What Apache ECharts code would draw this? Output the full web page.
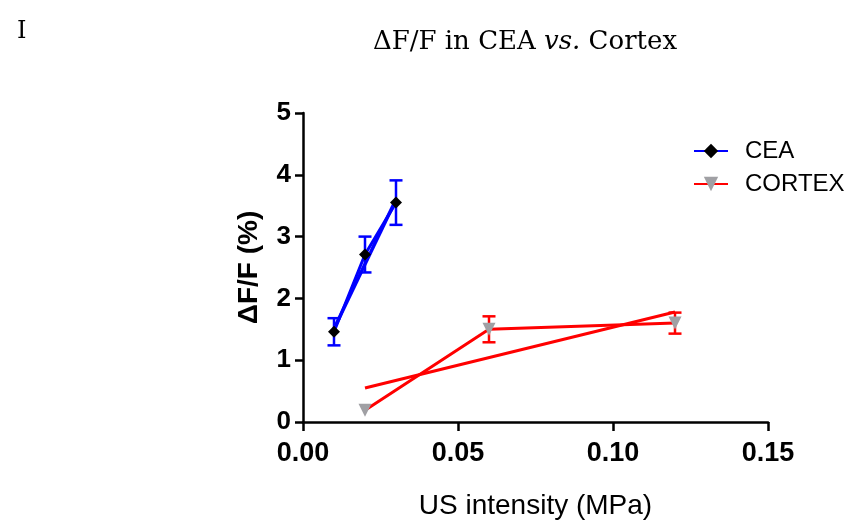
<!DOCTYPE html>
<html>
<head>
<meta charset="utf-8">
<script src="https://cdn.jsdelivr.net/npm/echarts@6/dist/echarts.min.js"></script>
<style>
  html, body { margin: 0; padding: 0; background: #fff; }
  #chart { width: 858px; height: 529px; }
</style>
</head>
<body>
<div id="chart"></div>
<script>
// Ultrasound intensity (MPa) and fluorescence change (%), mean ± SEM
const ceaX = [0.01, 0.02, 0.03];
const ceaMean = [1.46, 2.71, 3.55];
const ceaSem = [0.22, 0.29, 0.36];
const ceaFit = [1.51, 3.60];          // regression line at first/last intensity

const cortexX = [0.02, 0.06, 0.12];
const cortexMean = [0.19, 1.50, 1.60];
const cortexSem = [0, 0.21, 0.17];
const cortexFit = [0.55, 1.78];

const xTicks = [0, 0.05, 0.10, 0.15];
const yTicks = [0, 1, 2, 3, 4, 5];

const BLUE = '#0000ff';
const RED = '#ff0000';
const GREY = '#a0a0a4';

function pairs(xs, ys) { return xs.map((x, i) => [x, ys[i]]); }

function errorSeries(xs, means, sems, color) {
  return {
    type: 'custom',
    silent: true,
    z: 1,
    data: xs.map((x, i) => [x, means[i] - sems[i], means[i] + sems[i]]),
    renderItem: function (params, api) {
      if (api.value(1) === api.value(2)) return null;
      const lo = api.coord([api.value(0), api.value(1)]);
      const hi = api.coord([api.value(0), api.value(2)]);
      const w = 6.5;
      const style = { stroke: color, lineWidth: 2.5 };
      return {
        type: 'group',
        children: [
          { type: 'line', shape: { x1: lo[0], y1: lo[1], x2: hi[0], y2: hi[1] }, style },
          { type: 'line', shape: { x1: lo[0] - w, y1: lo[1], x2: lo[0] + w, y2: lo[1] }, style },
          { type: 'line', shape: { x1: hi[0] - w, y1: hi[1], x2: hi[0] + w, y2: hi[1] }, style }
        ]
      };
    }
  };
}

const chart = echarts.init(document.getElementById('chart'), null, { renderer: 'canvas' });

chart.setOption({
  backgroundColor: '#ffffff',
  animation: false,
  title: [
    {
      text: '{a|ΔF/F in CEA }{i|vs.}{a| Cortex}',
      left: 520, top: 24, textAlign: 'center',
      textStyle: {
        fontWeight: 'normal',
        rich: {
          a: { fontFamily: 'DejaVu Serif', fontSize: 26, fontWeight: 'normal', color: '#000' },
          i: { fontFamily: 'DejaVu Serif', fontSize: 26, fontWeight: 'normal', fontStyle: 'italic', color: '#000' }
        }
      }
    },
    {
      text: 'I', left: 12, top: 15,
      textStyle: { fontFamily: 'DejaVu Serif', fontSize: 24, fontWeight: 'normal', color: '#000' }
    }
  ],
  legend: {
    orient: 'vertical',
    left: 693, top: 139, padding: 0,
    itemWidth: 34, itemHeight: 18, itemGap: 9,
    textStyle: { fontFamily: 'Liberation Sans', fontSize: 24, color: '#000', padding: [0, 0, 0, 12] },
    data: ['CEA', 'CORTEX']
  },
  grid: { left: 303, right: 90, top: 113, bottom: 107 },
  xAxis: {
    type: 'value', min: xTicks[0], max: xTicks[xTicks.length - 1], interval: 0.05,
    name: 'US intensity (MPa)', nameLocation: 'middle', nameGap: 70,
    nameTextStyle: { fontFamily: 'Liberation Sans', fontSize: 28, color: '#000' },
    axisLine: { lineStyle: { color: '#000', width: 2.5 } },
    axisTick: { show: true, length: 9, lineStyle: { color: '#000', width: 2.5 } },
    axisLabel: {
      fontFamily: 'Liberation Sans', fontSize: 27, fontWeight: 'bold', color: '#000', margin: 18,
      formatter: v => v.toFixed(2)
    },
    splitLine: { show: false }
  },
  yAxis: {
    type: 'value', min: yTicks[0], max: yTicks[yTicks.length - 1], interval: 1,
    name: 'ΔF/F (%)', nameLocation: 'middle', nameGap: 40, nameRotate: 90,
    nameTextStyle: { fontFamily: 'Liberation Sans', fontSize: 28, fontWeight: 'bold', color: '#000' },
    axisLine: { show: true, lineStyle: { color: '#000', width: 2.5 } },
    axisTick: { show: true, length: 8, lineStyle: { color: '#000', width: 2.5 } },
    axisLabel: { fontFamily: 'Liberation Sans', fontSize: 26, fontWeight: 'bold', color: '#000', margin: 12 },
    splitLine: { show: false }
  },
  series: [
    errorSeries(ceaX, ceaMean, ceaSem, BLUE),
    errorSeries(cortexX, cortexMean, cortexSem, RED),
    {
      name: 'CEA-fit', type: 'line', z: 2, symbol: 'none', silent: true,
      lineStyle: { color: BLUE, width: 3.5 },
      data: [[ceaX[0], ceaFit[0]], [ceaX[ceaX.length - 1], ceaFit[1]]]
    },
    {
      name: 'CORTEX-fit', type: 'line', z: 2, symbol: 'none', silent: true,
      lineStyle: { color: RED, width: 3 },
      data: [[cortexX[0], cortexFit[0]], [cortexX[cortexX.length - 1], cortexFit[1]]]
    },
    {
      name: 'CEA', type: 'line', z: 3,
      symbol: 'diamond', symbolSize: 12,
      itemStyle: { color: '#000' },
      lineStyle: { color: BLUE, width: 3 },
      data: pairs(ceaX, ceaMean)
    },
    {
      name: 'CORTEX', type: 'line', z: 3,
      symbol: 'triangle', symbolSize: 13, symbolRotate: 180,
      itemStyle: { color: GREY },
      lineStyle: { color: RED, width: 3 },
      data: pairs(cortexX, cortexMean)
    }
  ]
});
</script>
</body>
</html>
